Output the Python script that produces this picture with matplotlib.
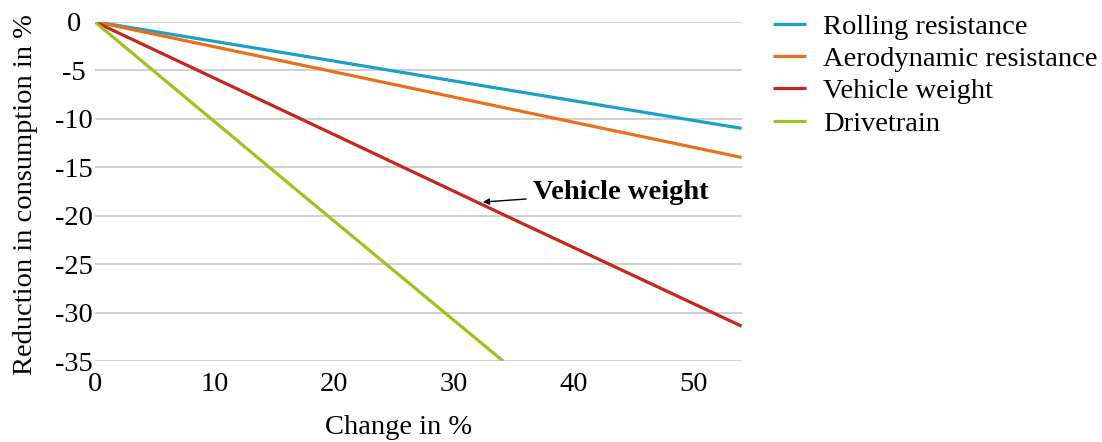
import numpy as np
import matplotlib.pyplot as plt

plt.rcParams['font.family'] = ['Liberation Serif', 'DejaVu Serif']

# data
change = [0, 17, 34.3, 54]
rolling = [0, -3.45, -7.0, -11]
aero = [0, -4.4, -8.9, -14]
weight = [0, -9.9, -20, -31.4]
drive_x = [0, 17, 34.1]
drivetrain = [0, -17.5, -35]

names = ['Rolling resistance', 'Aerodynamic resistance', 'Vehicle weight', 'Drivetrain']
colors = ['#1ba1c6', '#e8711b', '#c3281c', '#9cc41e']

fig = plt.figure(figsize=(11.02, 4.42), dpi=100)
ax = fig.add_axes([0.0858, 0.183, 0.5872, 0.768])

ax.plot(change, rolling, color=colors[0], lw=2.3, label=names[0], solid_capstyle='butt')
ax.plot(change, aero, color=colors[1], lw=2.3, label=names[1], solid_capstyle='butt')
ax.plot(change, weight, color=colors[2], lw=2.3, label=names[2], solid_capstyle='butt')
ax.plot(drive_x, drivetrain, color=colors[3], lw=2.3, label=names[3], solid_capstyle='butt')

fs = 20.5
ax.set_xlim(0, 54)
ax.set_ylim(-35, 0)
ax.set_xticks([0, 10, 20, 30, 40, 50])
ax.set_yticks([0, -5, -10, -15, -20, -25, -30, -35])
ax.set_yticklabels(['0', '-5', '-10', '-15', '-20', '-25', '-30', '-35'], ha='center')
ax.tick_params(length=0, labelsize=fs)
ax.tick_params(axis='x', pad=8)
ax.tick_params(axis='y', pad=15)
for s in ax.spines.values():
    s.set_visible(False)
ax.grid(axis='y', color='#c4c4c4', lw=1.1)
ax.set_axisbelow(True)

ax.set_xlabel('Change in %', fontsize=fs)
ax.set_ylabel('Reduction in consumption in %', fontsize=fs)
ax.xaxis.set_label_coords(0.47, -0.16)
ax.yaxis.set_label_coords(-0.087, 0.49)

ax.annotate('Vehicle weight', xy=(32.4, -18.6), xytext=(36.6, -17.6),
            fontsize=fs, fontweight='bold', va='center', ha='left',
            arrowprops=dict(arrowstyle='-|>', color='black', lw=1,
                            mutation_scale=9, shrinkA=3, shrinkB=0))

ax.legend(loc='upper left', bbox_to_anchor=(1.031, 1.056), frameon=False,
          fontsize=fs, handlelength=1.15, handletextpad=0.6, labelspacing=0.22,
          borderaxespad=0)

fig.savefig('out.png', dpi=100)
